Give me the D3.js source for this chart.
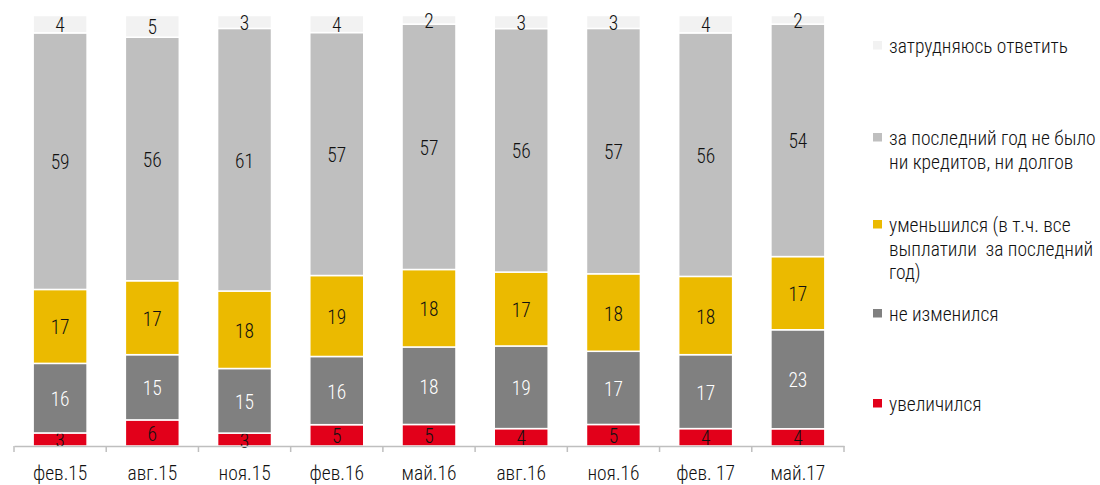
<!DOCTYPE html>
<html>
<head>
<meta charset="utf-8">
<script src="https://cdn.jsdelivr.net/npm/d3@7"></script>
<style>
  body { margin: 0; background: #fff; }
  svg text { font-family: "Roboto Condensed", "DejaVu Sans Condensed", sans-serif; font-weight: 300; }
</style>
</head>
<body>
<div id="chart"></div>
<script>
'use strict';

// categories and series (percent), bottom to top
var categories = ['фев.15', 'авг.15', 'ноя.15', 'фев.16', 'май.16', 'авг.16', 'ноя.16', 'фев. 17', 'май.17']
var increased  = [3, 6, 3, 5, 5, 4, 5, 4, 4]
var unchanged  = [16, 15, 15, 16, 18, 19, 17, 17, 23]
var decreased  = [17, 17, 18, 19, 18, 17, 18, 18, 17]
var noCredits  = [59, 56, 61, 57, 57, 56, 57, 56, 54]
var hardToSay  = [4, 5, 3, 4, 2, 3, 3, 4, 2]

var seriesNames = ['увеличился', 'не изменился', 'уменьшился (в т.ч. все выплатили за последний год)',
  'за последний год не было ни кредитов, ни долгов', 'затрудняюсь ответить']
var seriesColors = ['#e2001a', '#808080', '#ebba00', '#bfbfbf', '#f2f2f2']
var labelColors = ['#111', '#fff', '#111', '#111', '#111']

// legend lines (top to bottom)
var legendItems = [
  {series: 4, lines: ['затрудняюсь ответить'], y: 53},
  {series: 3, lines: ['за последний год не было', 'ни кредитов, ни долгов'], y: 145},
  {series: 2, lines: ['уменьшился (в т.ч. все', 'выплатили  за последний', 'год)'], y: 232},
  {series: 1, lines: ['не изменился'], y: 321},
  {series: 0, lines: ['увеличился'], y: 411}
]

var W = 1100, H = 485
var margin = {left: 14, right: 256, top: 15.5, bottom: 39}
var width = W - margin.left - margin.right
var height = H - margin.top - margin.bottom

var svg = d3.select('#chart').append('svg')
  .attr('width', W)
  .attr('height', H)

var g = svg.append('g')
  .attr('transform', 'translate(' + margin.left + ',' + margin.top + ')')

var x = d3.scaleBand()
  .domain(categories)
  .range([0, width])
  .paddingInner(0.415)
  .paddingOuter(0.2075)

var y = d3.scaleLinear()
  .domain([0, 1])
  .range([height, 0])

// build the table, normalised to 100% per bar
var rows = categories.map(function(c, i){
  var vals = [increased[i], unchanged[i], decreased[i], noCredits[i], hardToSay[i]]
  var total = d3.sum(vals)
  var row = {cat: c, total: total}
  vals.forEach(function(v, k){ row['s' + k] = v })
  return row
})

var stack = d3.stack()
  .keys(['s0', 's1', 's2', 's3', 's4'])
  .value(function(d, key){ return d[key] / d.total })
var layers = stack(rows)

var layer = g.selectAll('.layer')
  .data(layers)
  .enter().append('g')
    .attr('class', 'layer')
    .attr('fill', function(d, i){ return seriesColors[i] })

layer.selectAll('rect')
  .data(function(d){ return d })
  .enter().append('rect')
    .attr('x', function(d){ return x(d.data.cat) })
    .attr('width', x.bandwidth())
    .attr('y', function(d){ return y(d[1]) })
    .attr('height', function(d){ return y(d[0]) - y(d[1]) })
    .attr('stroke', '#fff')
    .attr('stroke-width', 1.5)

// axis
var xAxis = d3.axisBottom(x).tickSize(0).tickPadding(20)
var ax = g.append('g')
  .attr('transform', 'translate(0,' + height + ')')
  .call(xAxis)
ax.select('.domain').attr('stroke', '#bfbfbf').attr('stroke-width', 1.5)
ax.selectAll('.tick text')
  .attr('fill', '#111')
  .style('font-size', '19.5px')

// separators between categories
var sepX = d3.range(categories.length + 1).map(function(i){ return i * x.step() })
ax.selectAll('.sep')
  .data(sepX)
  .enter().append('line')
    .attr('class', 'sep')
    .attr('x1', function(d){ return d })
    .attr('x2', function(d){ return d })
    .attr('y1', 0)
    .attr('y2', 6)
    .attr('stroke', '#bfbfbf')
    .attr('stroke-width', 1.5)

// value labels
layer.selectAll('text')
  .data(function(d, i){ return d.map(function(p){ p.k = i; return p }) })
  .enter().append('text')
    .attr('x', function(d){ return x(d.data.cat) + x.bandwidth() / 2 })
    .attr('y', function(d){ return (y(d[0]) + y(d[1])) / 2 + 8 })
    .attr('text-anchor', 'middle')
    .attr('fill', function(d){ return labelColors[d.k] })
    .style('font-size', '19.5px')
    .text(function(d){ return d.data['s' + d.k] })

// legend
var legend = svg.append('g')
var li = legend.selectAll('.item')
  .data(legendItems)
  .enter().append('g')
    .attr('class', 'item')

li.append('rect')
  .attr('x', 873)
  .attr('y', function(d){ return d.y - 12 })
  .attr('width', 9)
  .attr('height', 8.5)
  .attr('fill', function(d){ return seriesColors[d.series] })

li.each(function(d){
  var t = d3.select(this).append('text')
    .attr('x', 889)
    .attr('y', d.y)
    .attr('fill', '#111')
    .style('font-size', '19.5px')
  d.lines.forEach(function(line, j){
    t.append('tspan')
      .attr('x', 889)
      .attr('dy', j === 0 ? 0 : 23.5)
      .attr('xml:space', 'preserve')
      .text(line)
  })
})
</script>
</body>
</html>
